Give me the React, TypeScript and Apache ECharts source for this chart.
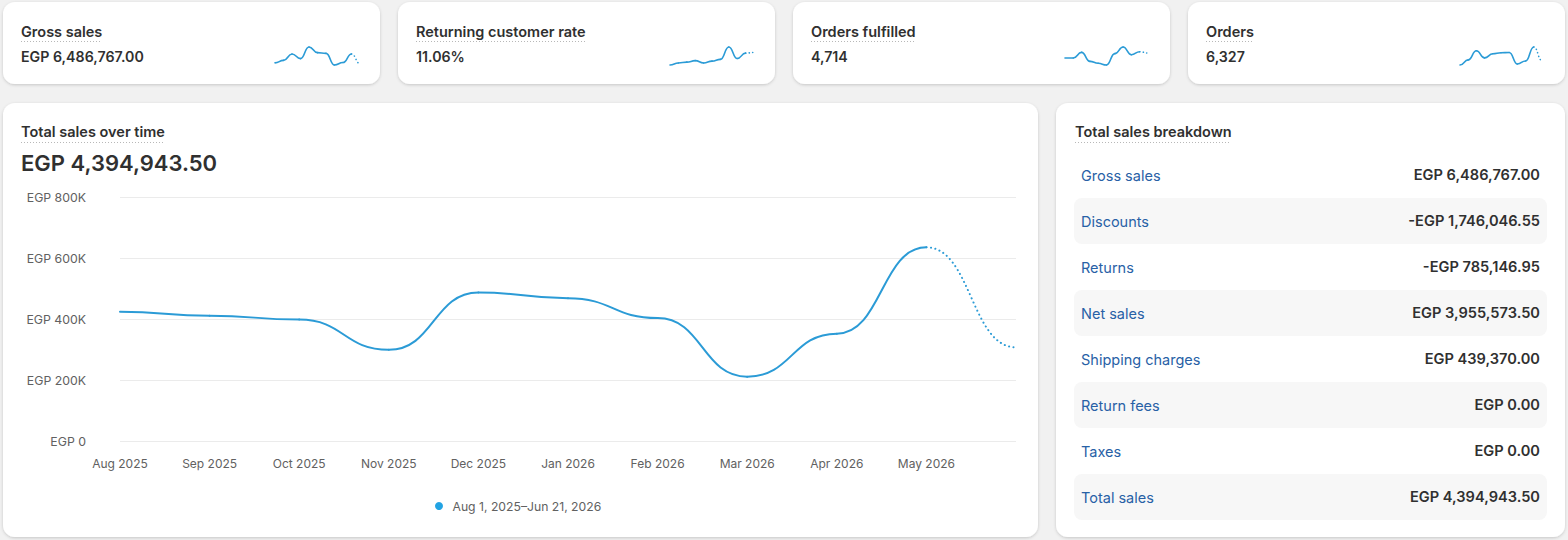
import React, { useEffect, useRef } from "react";
import * as echarts from "echarts";

// Monthly buckets shared by the main chart and the sparklines
const months = [
  "Aug 2025", "Sep 2025", "Oct 2025", "Nov 2025", "Dec 2025", "Jan 2026",
  "Feb 2026", "Mar 2026", "Apr 2026", "May 2026", "Jun 2026",
];

// Total sales per month (EGP); the last month is still in progress
const totalSales = [424000, 411000, 398000, 299000, 487000, 468000, 403000, 211000, 352000, 635000, 307000];

// KPI sparkline series
const grossSales = [475000, 530000, 668000, 568000, 822000, 698000, 683000, 428000, 482000, 668000, 460000];
const returningRate = [8.0, 8.8, 9.1, 9.7, 8.8, 9.5, 10.2, 15.0, 10.5, 12.6, 12.9];
const ordersFulfilled = [417, 417, 511, 361, 328, 300, 489, 600, 472, 522, 500];
const orders = [400, 513, 717, 558, 649, 672, 679, 422, 490, 800, 498];

const kpiTitles = ["Gross sales", "Returning customer rate", "Orders fulfilled", "Orders"];
const kpiValues = ["EGP 6,486,767.00", "11.06%", "4,714", "6,327"];

const breakdownLabels = [
  "Gross sales", "Discounts", "Returns", "Net sales",
  "Shipping charges", "Return fees", "Taxes", "Total sales",
];
const breakdownValues = [
  "EGP 6,486,767.00", "-EGP 1,746,046.55", "-EGP 785,146.95", "EGP 3,955,573.50",
  "EGP 439,370.00", "EGP 0.00", "EGP 0.00", "EGP 4,394,943.50",
];

const totalSalesText = "EGP 4,394,943.50";
const rangeLabel = "Aug 1, 2025\u2013Jun 21, 2026";

const FONT = "Inter, 'Noto Sans', sans-serif";
const INK = "#303030";
const MUTED = "#616161";
const LINE = "#2b9bd6";
const LINK = "#2861a6";

// Each item draws the segment arriving at it: flat tangents at every point,
// and the final (incomplete) month is dotted.
function curveRenderer(values: number[], width: number, color: string) {
  return (params: any, api: any) => {
    const i = params.dataIndex;
    if (i === 0) return { type: "group", children: [] };
    const a = api.coord([i - 1, values[i - 1]]);
    const b = api.coord([i, values[i]]);
    const half = (b[0] - a[0]) / 2;
    const last = i === values.length - 1;
    return {
      type: "bezierCurve",
      silent: true,
      shape: {
        x1: a[0], y1: a[1],
        cpx1: a[0] + half, cpy1: a[1],
        cpx2: b[0] - half, cpy2: b[1],
        x2: b[0], y2: b[1],
      },
      style: {
        stroke: color,
        fill: null,
        lineWidth: width,
        lineCap: "round",
        lineDash: last ? [0.1, width * 2.2] : null,
      },
    };
  };
}

const sparkSeries = [grossSales, returningRate, ordersFulfilled, orders];

function buildOption() {
  const cardW = 377;
  const cardStep = 395;
  const graphics: any[] = [];

  const card = (x: number, y: number, w: number, h: number) => ({
    type: "rect",
    z: -10,
    silent: true,
    shape: { x, y, width: w, height: h, r: 12 },
    style: {
      fill: "#ffffff",
      shadowBlur: 3,
      shadowOffsetY: 1,
      shadowColor: "rgba(0,0,0,0.18)",
    },
  });

  const text = (x: number, y: number, t: string, opts: any = {}) => ({
    type: "text",
    z: 10,
    silent: true,
    style: {
      x, y, text: t,
      fill: opts.fill ?? INK,
      fontSize: opts.fontSize ?? 14,
      fontWeight: opts.fontWeight ?? 400,
      fontFamily: FONT,
      align: opts.align ?? "left",
      verticalAlign: "middle",
    },
  });

  const underline = (x1: number, x2: number, y: number) => ({
    type: "line",
    z: 10,
    silent: true,
    shape: { x1, y1: y, x2, y2: y },
    style: { stroke: "#b8b8b8", lineWidth: 1, lineDash: [1, 2] },
  });

  // KPI cards
  const titleWidths = [81, 170, 105, 47];
  kpiTitles.forEach((t, i) => {
    const x = 3 + i * cardStep;
    graphics.push(card(x, 2, cardW, 82));
    graphics.push(text(x + 18, 31, t, { fontSize: 14.5, fontWeight: 600 }));
    graphics.push(underline(x + 18, x + 18 + titleWidths[i], 41.5));
    graphics.push(text(x + 18, 56, kpiValues[i], { fontSize: 14.2, fontWeight: 600 }));
  });

  // Main chart card
  graphics.push(card(3, 103, 1035, 434));
  graphics.push(text(21, 131, "Total sales over time", { fontSize: 14.5, fontWeight: 600 }));
  graphics.push(underline(21, 165, 142.5));
  graphics.push(text(21, 163, totalSalesText, { fontSize: 22, fontWeight: 600 }));

  // Breakdown card
  graphics.push(card(1056, 103, 509, 434));
  graphics.push(text(1075, 131, "Total sales breakdown", { fontSize: 14.5, fontWeight: 600 }));
  graphics.push(underline(1075, 1231, 142.5));
  breakdownLabels.forEach((label, k) => {
    const cy = 175 + k * 46;
    if (k % 2 === 1) {
      graphics.push({
        type: "rect",
        z: -5,
        silent: true,
        shape: { x: 1074, y: cy - 23, width: 473, height: 46, r: 8 },
        style: { fill: "#f7f7f7" },
      });
    }
    graphics.push(text(1081, cy, label, { fill: LINK, fontSize: 14.5 }));
    graphics.push(text(1540, cy, breakdownValues[k], { fontSize: 14.6, fontWeight: 600, align: "right" }));
  });

  const grids: any[] = [
    { left: 120, top: 197, width: 896, height: 244 },
  ];
  const xAxes: any[] = [
    {
      type: "category",
      gridIndex: 0,
      data: months,
      boundaryGap: false,
      axisLine: { show: false },
      axisTick: { show: false },
      axisLabel: {
        interval: (idx: number) => idx < months.length - 1,
        color: MUTED,
        fontFamily: FONT,
        fontSize: 12,
        margin: 16,
      },
    },
  ];
  const yAxes: any[] = [
    {
      type: "value",
      gridIndex: 0,
      min: 0,
      max: 800000,
      interval: 200000,
      axisLine: { show: false },
      axisTick: { show: false },
      splitLine: { lineStyle: { color: "#ebebeb", width: 1 } },
      axisLabel: {
        color: MUTED,
        fontFamily: FONT,
        fontSize: 12.3,
        margin: 34,
        formatter: (v: number) => (v === 0 ? "EGP 0" : `EGP ${v / 1000}K`),
      },
    },
  ];
  const series: any[] = [
    {
      name: rangeLabel,
      type: "custom",
      xAxisIndex: 0,
      yAxisIndex: 0,
      itemStyle: { color: "#22a3e3" },
      encode: { x: 0, y: 1 },
      data: totalSales.map((v, i) => [i, v]),
      renderItem: curveRenderer(totalSales, 2, LINE),
    },
  ];

  // Sparklines
  const sparkLeft = [275, 670, 1065, 1460];
  const sparkWidth = [85, 84, 83, 82];
  sparkSeries.forEach((vals, i) => {
    const g = i + 1;
    grids.push({ left: sparkLeft[i], top: 47, width: sparkWidth[i], height: 18 });
    xAxes.push({
      type: "category", gridIndex: g, data: months, boundaryGap: false, show: false,
    });
    yAxes.push({
      type: "value", gridIndex: g, min: "dataMin", max: "dataMax", show: false,
      splitLine: { show: false },
    });
    series.push({
      name: kpiTitles[i],
      type: "custom",
      xAxisIndex: g,
      yAxisIndex: g,
      encode: { x: 0, y: 1 },
      data: vals.map((v, j) => [j, v]),
      renderItem: curveRenderer(vals, 1.6, LINE),
    });
  });

  return {
    animation: false,
    backgroundColor: "#f1f1f1",
    textStyle: { fontFamily: FONT },
    grid: grids,
    xAxis: xAxes,
    yAxis: yAxes,
    legend: {
      left: 430,
      top: 495,
      itemWidth: 13,
      itemHeight: 8,
      selectedMode: false,
      data: [{ name: rangeLabel, icon: "circle", itemStyle: { color: "#22a3e3" } }],
      textStyle: { color: MUTED, fontSize: 12.2, fontFamily: FONT, padding: [0, 0, 0, 2] },
    },
    graphic: graphics,
    series,
  };
}

export default function App() {
  const ref = useRef<HTMLDivElement>(null);
  useEffect(() => {
    if (!ref.current) return;
    const chart = echarts.init(ref.current, undefined, { renderer: "svg" });
    chart.setOption(buildOption() as any);
    return () => chart.dispose();
  }, []);
  return (
    <div
      ref={ref}
      style={{ position: "absolute", left: 0, top: 0, width: 1568, height: 540, background: "#f1f1f1" }}
    />
  );
}
